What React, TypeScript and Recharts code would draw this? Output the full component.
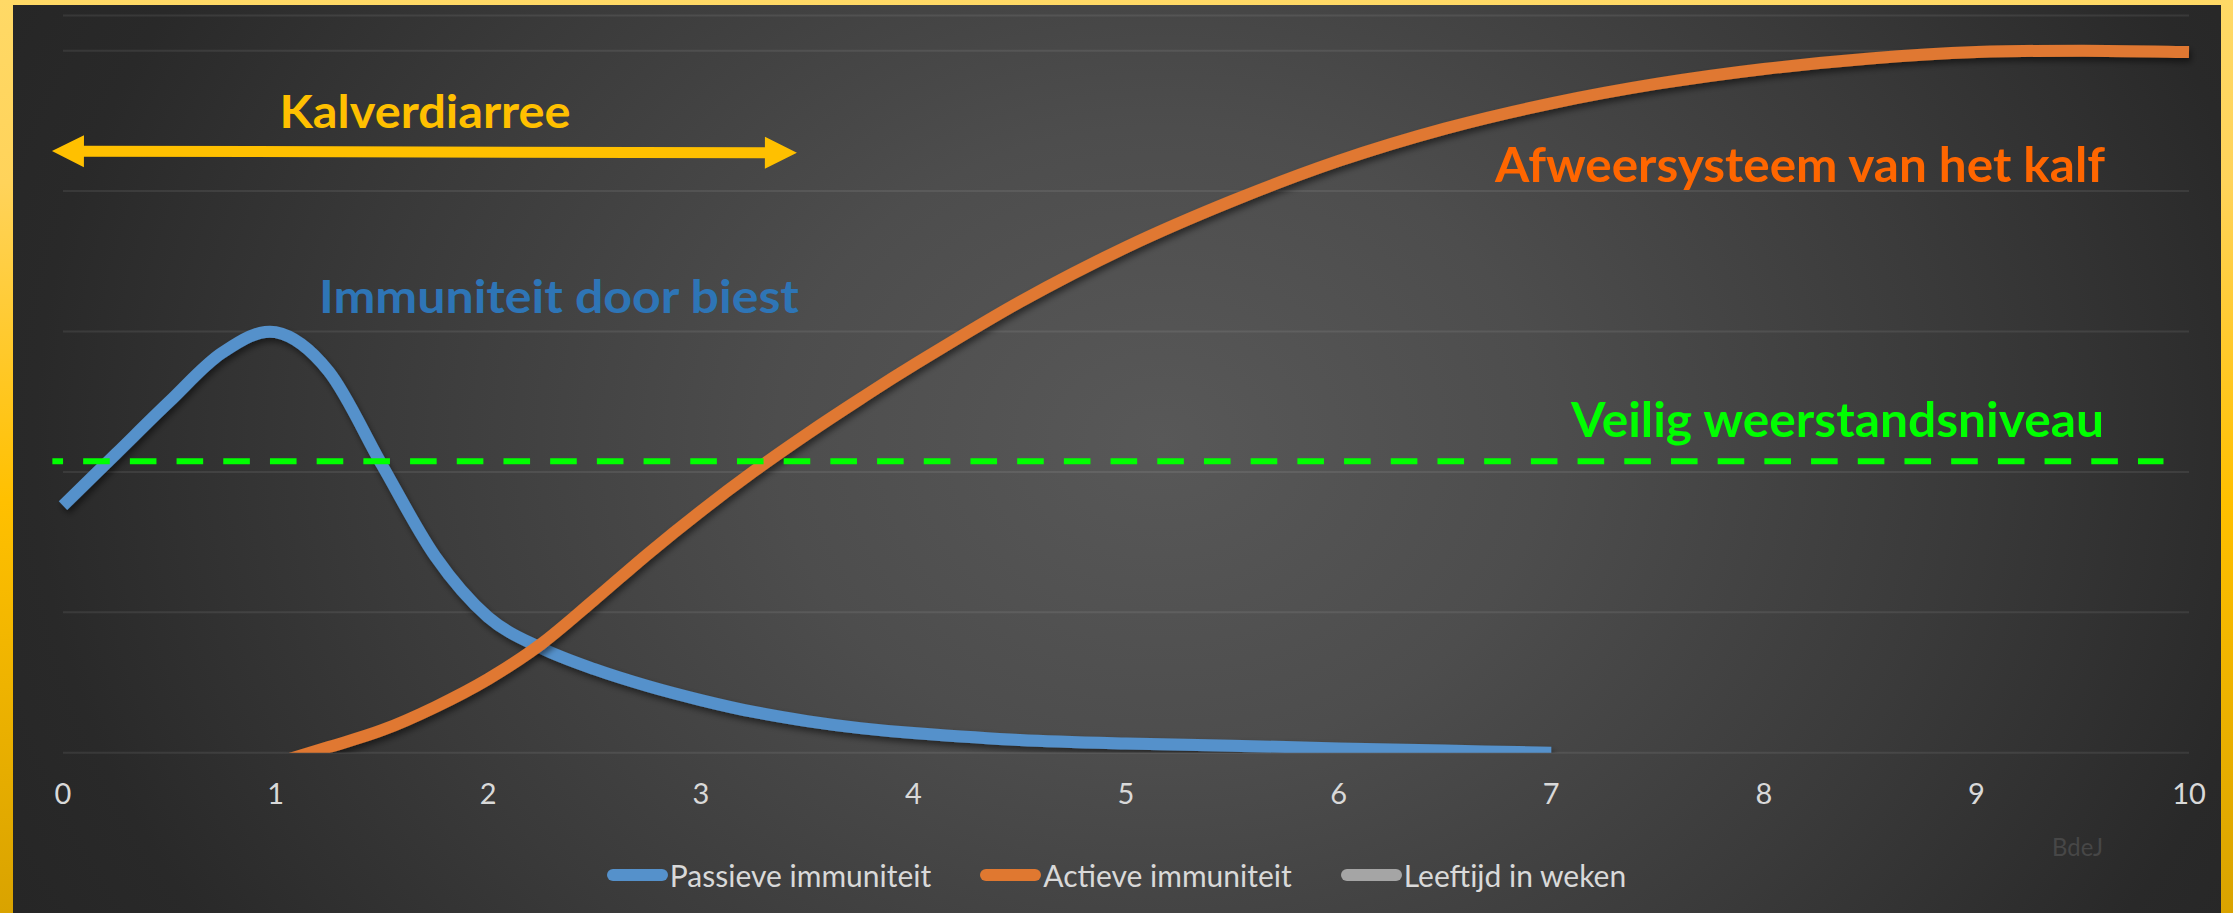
import React from 'react';
import {
  LineChart,
  Line,
  XAxis,
  YAxis,
  CartesianGrid,
  Legend,
  ReferenceLine,
  ReferenceDot,
} from 'recharts';

// ---- data ----
const weeks = [0, 0.25, 0.5, 0.75, 1, 1.25, 1.5, 1.75, 2, 2.25, 2.5, 2.75, 3, 3.25, 3.5, 3.75, 4, 4.5, 5, 5.5, 6, 6.5, 7, 7.5, 8, 8.5, 9, 9.5, 10];
const passieve = [35.2, 42.6, 50.0, 57.0, 59.9, 54.3, 41.0, 28.0, 19.3, 14.9, 11.9, 9.5, 7.5, 5.8, 4.5, 3.5, 2.8, 1.8, 1.3, 1.0, 0.6, 0.3, 0, null, null, null, null, null, null];
const actieve = [null, null, null, null, -1.5, 0.8, 3.2, 6.5, 10.5, 15.5, 21.8, 28.3, 34.4, 40.1, 45.4, 50.4, 55.2, 64.2, 72.0, 78.6, 84.3, 88.9, 92.5, 95.3, 97.4, 98.9, 99.8, 100, 99.8];
const leeftijd = weeks.map(() => null);

const xTicks = [0, 1, 2, 3, 4, 5, 6, 7, 8, 9, 10];
const yTicks = [0, 20, 40, 60, 80, 100];

const seriesNames = ['Passieve immuniteit', 'Actieve immuniteit', 'Leeftijd in weken'];

const veiligNiveau = 41.5;
const veiligVan = -0.05;
const veiligTot = 9.88;

const diarreeVan = { week: -0.052, level: 85.7 };
const diarreeTot = { week: 3.452, level: 85.45 };

const annotations = [
  { label: 'Kalverdiarree', week: 1.703, level: 88.95, color: '#FFC000', size: 46, width: 291, weight: 700 },
  { label: 'Immuniteit door biest', week: 2.333, level: 62.64, color: '#2E75B6', size: 46, width: 480, weight: 700 },
  { label: 'Afweersysteem van het kalf', week: 8.17, level: 81.34, color: '#FF6600', size: 47, width: 610, weight: 700 },
  { label: 'Veilig weerstandsniveau', week: 8.347, level: 44.97, color: '#00FF00', size: 47, width: 533, weight: 700 },
  { label: 'BdeJ', week: 9.476, level: -14.7, color: '#474747', size: 25, width: 51, weight: 400 },
];

const data = weeks.map((w, i) => ({
  week: w,
  passieve: passieve[i],
  actieve: actieve[i],
  leeftijd: leeftijd[i],
}));

// Excel-like smoothing (Catmull-Rom through the points)
const smoothCurve = (context: any) => {
  let pts: number[][] = [];
  return {
    areaStart() {},
    areaEnd() {},
    lineStart() {
      pts = [];
    },
    lineEnd() {
      const n = pts.length;
      if (n === 0) return;
      context.moveTo(pts[0][0], pts[0][1]);
      if (n === 1) return;
      for (let i = 0; i < n - 1; i++) {
        const p0 = pts[i - 1] || pts[i];
        const p1 = pts[i];
        const p2 = pts[i + 1];
        const p3 = pts[i + 2] || p2;
        const c1x = p1[0] + (p2[0] - p0[0]) / 6;
        const c1y = p1[1] + (p2[1] - p0[1]) / 6;
        const c2x = p2[0] - (p3[0] - p1[0]) / 6;
        const c2y = p2[1] - (p3[1] - p1[1]) / 6;
        context.bezierCurveTo(c1x, c1y, c2x, c2y, p2[0], p2[1]);
      }
    },
    point(x: number, y: number) {
      pts.push([+x, +y]);
    },
  };
};

// ---- shapes ----
const arrowShape = (p: any) => {
  const { x1, y1, x2, y2 } = p;
  const dx = x2 - x1;
  const dy = y2 - y1;
  const len = Math.hypot(dx, dy) || 1;
  const ux = dx / len;
  const uy = dy / len;
  const nx = -uy;
  const ny = ux;
  const head = 32;
  const hw = 16;
  const sw = 5.5;
  const pt = (bx: number, by: number, a: number, n: number) => [bx + ux * a + nx * n, by + uy * a + ny * n];
  const pts = [
    [x1, y1],
    pt(x1, y1, head, hw),
    pt(x1, y1, head, sw),
    pt(x2, y2, -head, sw),
    pt(x2, y2, -head, hw),
    [x2, y2],
    pt(x2, y2, -head, -hw),
    pt(x2, y2, -head, -sw),
    pt(x1, y1, head, -sw),
    pt(x1, y1, head, -hw),
  ];
  return <polygon points={pts.map((q) => q.join(',')).join(' ')} fill="#FFC000" />;
};

const dashedShape = (p: any) => (
  <line
    x1={p.x1}
    y1={p.y1}
    x2={p.x2}
    y2={p.y2}
    stroke="#00FF00"
    strokeWidth={6}
    strokeDasharray="26.6 20.1"
    strokeDashoffset={15.9}
  />
);

const textShape = (a: any) => (p: any) => (
  <text
    x={p.cx}
    y={p.cy}
    textAnchor="middle"
    fill={a.color}
    fontSize={a.size}
    fontWeight={a.weight}
    fontFamily="Lato, 'Open Sans', sans-serif"
    textLength={a.width}
    lengthAdjust="spacingAndGlyphs"
  >
    {a.label}
  </text>
);

const renderLegend = (props: any) => {
  const payload = props.payload || [];
  return (
    <div
      style={{
        display: 'flex',
        justifyContent: 'center',
        alignItems: 'center',
        height: 44,
        fontFamily: "Lato, 'Open Sans', sans-serif",
        fontSize: 30,
        color: '#D9D9D9',
        whiteSpace: 'nowrap',
      }}
    >
      {payload.map((e: any, i: number) => (
        <div key={i} style={{ display: 'flex', alignItems: 'center', marginLeft: i ? 49 : 0 }}>
          <span
            style={{
              display: 'inline-block',
              width: 61,
              height: 12,
              borderRadius: 6,
              background: e.color,
              marginRight: 2,
            }}
          />
          <span>{e.value}</span>
        </div>
      ))}
    </div>
  );
};

export default function App() {
  return (
    <div
      style={{
        position: 'fixed',
        left: 0,
        top: 0,
        width: 2233,
        height: 913,
        overflow: 'hidden',
        background: 'linear-gradient(180deg, #FFD966 0%, #FFD35A 20%, #FFC000 55%, #D9A300 100%)',
      }}
    >
      <div
        style={{
          position: 'absolute',
          left: 13,
          top: 5,
          width: 2208,
          height: 908,
          background:
            'radial-gradient(ellipse 58% 115% at 52% 48%, #585858 0%, #4d4d4d 30%, #3a3a3a 62%, #292929 88%, #262626 100%)',
        }}
      />
      <div style={{ position: 'absolute', left: 0, top: 0 }}>
        <LineChart width={2233} height={913} data={data} margin={{ top: 15.6, right: 44, bottom: 16, left: 63 }}>
          <defs>
            <filter id="lineShadow" filterUnits="userSpaceOnUse" x="0" y="0" width="2233" height="913">
              <feDropShadow dx="2" dy="4" stdDeviation="3" floodColor="#000" floodOpacity="0.5" />
            </filter>
          </defs>
          <CartesianGrid vertical={false} stroke="rgba(255,255,255,0.08)" strokeWidth={2} />
          <XAxis
            dataKey="week"
            type="number"
            domain={[0, 10]}
            ticks={xTicks}
            interval={0}
            height={100.3}
            axisLine={false}
            tickLine={false}
            tickSize={0}
            tickMargin={30.6}
            tick={{ fill: '#D9D9D9', fontSize: 29, fontFamily: "Lato, 'Open Sans', sans-serif" }}
          />
          <YAxis hide type="number" domain={[0, 105]} ticks={yTicks} allowDataOverflow />
          <Line
            type={smoothCurve as any}
            dataKey="passieve"
            name={seriesNames[0]}
            stroke="#5591CB"
            strokeWidth={12}
            dot={false}
            activeDot={false}
            filter="url(#lineShadow)"
            isAnimationActive={false}
          />
          <Line
            type={smoothCurve as any}
            dataKey="actieve"
            name={seriesNames[1]}
            stroke="#E07830"
            strokeWidth={12}
            dot={false}
            activeDot={false}
            filter="url(#lineShadow)"
            isAnimationActive={false}
          />
          <Line
            type="monotone"
            dataKey="leeftijd"
            name={seriesNames[2]}
            stroke="#A5A5A5"
            strokeWidth={12}
            dot={false}
            activeDot={false}
            isAnimationActive={false}
          />
          <ReferenceLine
            segment={[
              { x: veiligVan, y: veiligNiveau },
              { x: veiligTot, y: veiligNiveau },
            ]}
            ifOverflow="visible"
            shape={dashedShape}
          />
          <ReferenceLine
            segment={[
              { x: diarreeVan.week, y: diarreeVan.level },
              { x: diarreeTot.week, y: diarreeTot.level },
            ]}
            ifOverflow="visible"
            shape={arrowShape}
          />
          {annotations.map((a) => (
            <ReferenceDot key={a.label} x={a.week} y={a.level} r={1} ifOverflow="visible" shape={textShape(a)} />
          ))}
          <Legend
            verticalAlign="bottom"
            align="center"
            content={renderLegend}
            itemSorter={(item: any) => seriesNames.indexOf(item.value)}
            wrapperStyle={{ left: 0, width: 2233, bottom: 16 }}
          />
        </LineChart>
      </div>
    </div>
  );
}
